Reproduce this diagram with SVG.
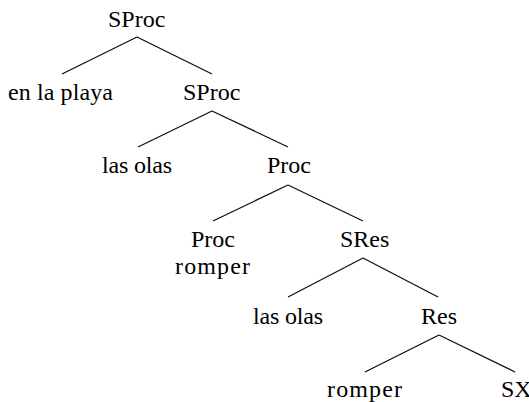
<svg xmlns="http://www.w3.org/2000/svg" width="529" height="402" viewBox="0 0 529 402">
<rect width="529" height="402" fill="#fff"/>
<g id="edges" stroke="#111" stroke-width="1.3">
<line x1="137" y1="37" x2="62" y2="74"/>
<line x1="137" y1="37" x2="212" y2="74"/>
<line x1="212" y1="111" x2="138" y2="147"/>
<line x1="212" y1="111" x2="288" y2="147"/>
<line x1="288" y1="185" x2="213" y2="221"/>
<line x1="288" y1="185" x2="363" y2="221"/>
<line x1="363" y1="258" x2="288" y2="297"/>
<line x1="363" y1="258" x2="438" y2="297"/>
<line x1="439" y1="335" x2="365" y2="372"/>
<line x1="439" y1="335" x2="515" y2="372"/>
</g>
<g id="n1"><text x="108" y="27" font-family="Liberation Serif" font-size="24">SProc</text></g>
<g id="n2"><text x="8" y="100" font-family="Liberation Serif" font-size="24" textLength="105">en la playa</text></g>
<g id="n3"><text x="183" y="100" font-family="Liberation Serif" font-size="24">SProc</text></g>
<g id="n4"><text x="102" y="173" font-family="Liberation Serif" font-size="24" textLength="70">las olas</text></g>
<g id="n5"><text x="267" y="173" font-family="Liberation Serif" font-size="24">Proc</text></g>
<g id="n6"><text x="191" y="247" font-family="Liberation Serif" font-size="24">Proc</text><text x="175" y="274" font-family="Liberation Serif" font-size="24" textLength="75">romper</text></g>
<g id="n7"><text x="340" y="247" font-family="Liberation Serif" font-size="24">SRes</text></g>
<g id="n8"><text x="253" y="324" font-family="Liberation Serif" font-size="24" textLength="70">las olas</text></g>
<g id="n9"><text x="421" y="324" font-family="Liberation Serif" font-size="24">Res</text></g>
<g id="n10"><text x="327" y="397" font-family="Liberation Serif" font-size="24" textLength="75">romper</text></g>
<g id="n11"><text x="501" y="397" font-family="Liberation Serif" font-size="24">SX</text></g>
</svg>
